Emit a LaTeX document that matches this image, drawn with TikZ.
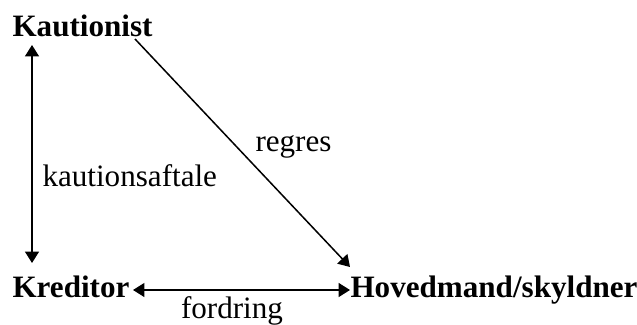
\documentclass[tikz,border=0pt]{standalone}
\usepackage{fontspec}
\setmainfont{Liberation Serif}
\usetikzlibrary{arrows.meta}

\begin{document}
\begin{tikzpicture}[
    x=0.01401cm,
    y=-0.01401cm,
    >={Triangle[length=4.5pt,width=5.5pt]},
    party/.style={
        inner sep=0pt,
        anchor=base west,
        font=\fontsize{12.4}{14}\selectfont\bfseries
    },
    rel/.style={
        inner sep=0pt,
        anchor=base west,
        font=\fontsize{12.4}{14}\selectfont
    },
    arr/.style={->, line width=0.6pt},
    dbl/.style={<->, line width=0.6pt}
]
\useasboundingbox (0,0) rectangle (637,325);

\node[party] (kautionist) at (12,37) {Kautionist};
\node[party] (kreditor) at (12,297) {Kreditor};
\node[party] (hovedmand) at (350,297) {Hovedmand/skyldner};

\node[rel] (aftale) at (42,187) {kautionsaftale};
\node[rel] (regres) at (255,152) {regres};
\node[rel, anchor=base] (fordring) at (232,318) {fordring};

% end points of the connectors
\coordinate (aftaleTop) at (32,45);
\coordinate (aftaleBot) at (32,263);
\coordinate (fordL) at (133,290);
\coordinate (fordR) at (350,290);
\coordinate (regresA) at (135,39);
\coordinate (regresB) at (350,267);

\draw[dbl] (aftaleTop) -- (aftaleBot);
\draw[dbl] (fordL) -- (fordR);
\draw[arr] (regresA) -- (regresB);

\end{tikzpicture}
\end{document}
